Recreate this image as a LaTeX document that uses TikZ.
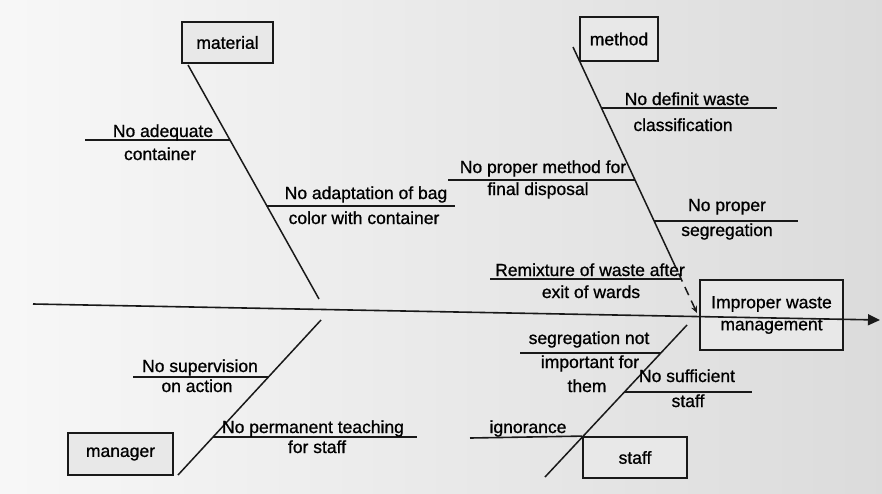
\documentclass[tikz,border=0pt]{standalone}
\usepackage{fontspec}
\setmainfont{Liberation Sans}[BoldFont={Liberation Sans},BoldFeatures={FakeBold=0.9}]
\usetikzlibrary{arrows.meta,calc}

\begin{document}
\begin{tikzpicture}[x=1pt,y=-1pt,semithick]
		\tikzstyle{every node}=[font=\fontsize{17.5}{22}\selectfont\bfseries,text=black]
		\tikzstyle{cat}=[draw=black!90,line width=1.8pt,fill=black!9,inner sep=0pt]
		\tikzstyle{bone}=[draw=black!90,line width=1.5pt]
		\tikzstyle{twig}=[draw=black!90,line width=1.6pt]
		\tikzstyle{lbl}=[anchor=base,inner sep=0pt]
		% scanned page
		\shade[left color=black!3,right color=black!14] (0,0) rectangle (882,493);
		\useasboundingbox (0,0) rectangle (882,493);
		% categories and effect
		\node[cat,minimum width=91pt,minimum height=41pt]  (mat)  at (227.5,42.5) {material};
		\node[cat,minimum width=78pt,minimum height=44pt]  (meth) at (619,39)     {method};
		\node[cat,minimum width=105pt,minimum height=42pt] (man)  at (120.5,454)  {manager};
		\node[cat,minimum width=104pt,minimum height=41pt] (stf)  at (635,457.5)  {staff};
		\node[cat,minimum width=143pt,minimum height=70pt,align=center] (eff) at (771.5,315) {Improper waste\\management};
		% spine
		\coordinate (tail) at (33,304);
		\coordinate (head) at (880,320);
		\draw[line width=1.6pt,draw=black!90,-{Triangle[length=12pt,width=11pt]}] (tail) -- (head);
		% bones
		\coordinate (m0) at (188,65);  \coordinate (m1) at (319,299);
		\coordinate (d0) at (573,47);  \coordinate (d1) at (697,313);
		\coordinate (g0) at (178,475); \coordinate (g1) at (321,320);
		\coordinate (s0) at (545,477); \coordinate (s1) at (687,325);
		\coordinate (dm) at ($(d0)!0.8!(d1)$);
		\draw[bone] (m0) -- (m1);
		\draw[bone] (d0) -- (dm);
		\draw[bone,dash pattern=on 9pt off 6pt,-{Stealth[length=7pt,width=6pt]}] (dm) -- (d1);
		\draw[bone] (g0) -- (g1);
		\draw[bone] (s0) -- (s1);
		% causes
		\coordinate (c1a) at (85,140);  \coordinate (c1b) at (230,140);
		\coordinate (c2a) at (267,206); \coordinate (c2b) at (455,206);
		\coordinate (c3a) at (602,108); \coordinate (c3b) at (777,108);
		\coordinate (c4a) at (448,180); \coordinate (c4b) at (635,180);
		\coordinate (c5a) at (654,221); \coordinate (c5b) at (798,221);
		\coordinate (c6a) at (490,279); \coordinate (c6b) at (681,279);
		\coordinate (c7a) at (133,377); \coordinate (c7b) at (268,377);
		\coordinate (c8a) at (213,437); \coordinate (c8b) at (417,437);
		\coordinate (c9a) at (520,353); \coordinate (c9b) at (661,353);
		\coordinate (c10a) at (624,392); \coordinate (c10b) at (752,392);
		\coordinate (c11a) at (470,438);
		\draw[twig] (c1a) -- (c1b);
		\draw[twig] (c2a) -- (c2b);
		\draw[twig] (c3a) -- (c3b);
		\draw[twig] (c4a) -- (c4b);
		\draw[twig] (c5a) -- (c5b);
		\draw[twig] (c6a) -- (c6b);
		\draw[twig] (c7a) -- (c7b);
		\draw[twig] (c8a) -- (c8b);
		\draw[twig] (c9a) -- (c9b);
		\draw[twig] (c10a) -- (c10b);
		\draw[twig] (c11a) -- (stf.north west);
		% labels
		\node[lbl] (t1a) at (163,137) {No adequate};
		\node[lbl] (t1b) at (160,160) {container};
		\node[lbl] (t2a) at (366,199) {No adaptation of bag};
		\node[lbl] (t2b) at (364,224) {color with container};
		\node[lbl] (t3a) at (687,105) {No definit waste};
		\node[lbl] (t3b) at (683,131) {classification};
		\node[lbl] (t4a) at (543,173) {No proper method for};
		\node[lbl] (t4b) at (538,195) {final disposal};
		\node[lbl] (t5a) at (727,211) {No proper};
		\node[lbl] (t5b) at (727,236) {segregation};
		\node[lbl] (t6a) at (590,276) {Remixture of waste after};
		\node[lbl] (t6b) at (591,298) {exit of wards};
		\node[lbl] (t7a) at (200,372) {No supervision};
		\node[lbl] (t7b) at (197,392) {on action};
		\node[lbl] (t8a) at (313,433) {No permanent teaching};
		\node[lbl] (t8b) at (317,453) {for staff};
		\node[lbl] (t9a) at (589,344) {segregation not};
		\node[lbl] (t9b) at (590,368) {important for};
		\node[lbl] (t9c) at (587,392) {them};
		\node[lbl] (t10a) at (687,382) {No sufficient};
		\node[lbl] (t10b) at (688,407) {staff};
		\node[lbl] (t11) at (528,433) {ignorance};
	\end{tikzpicture}
\end{document}
